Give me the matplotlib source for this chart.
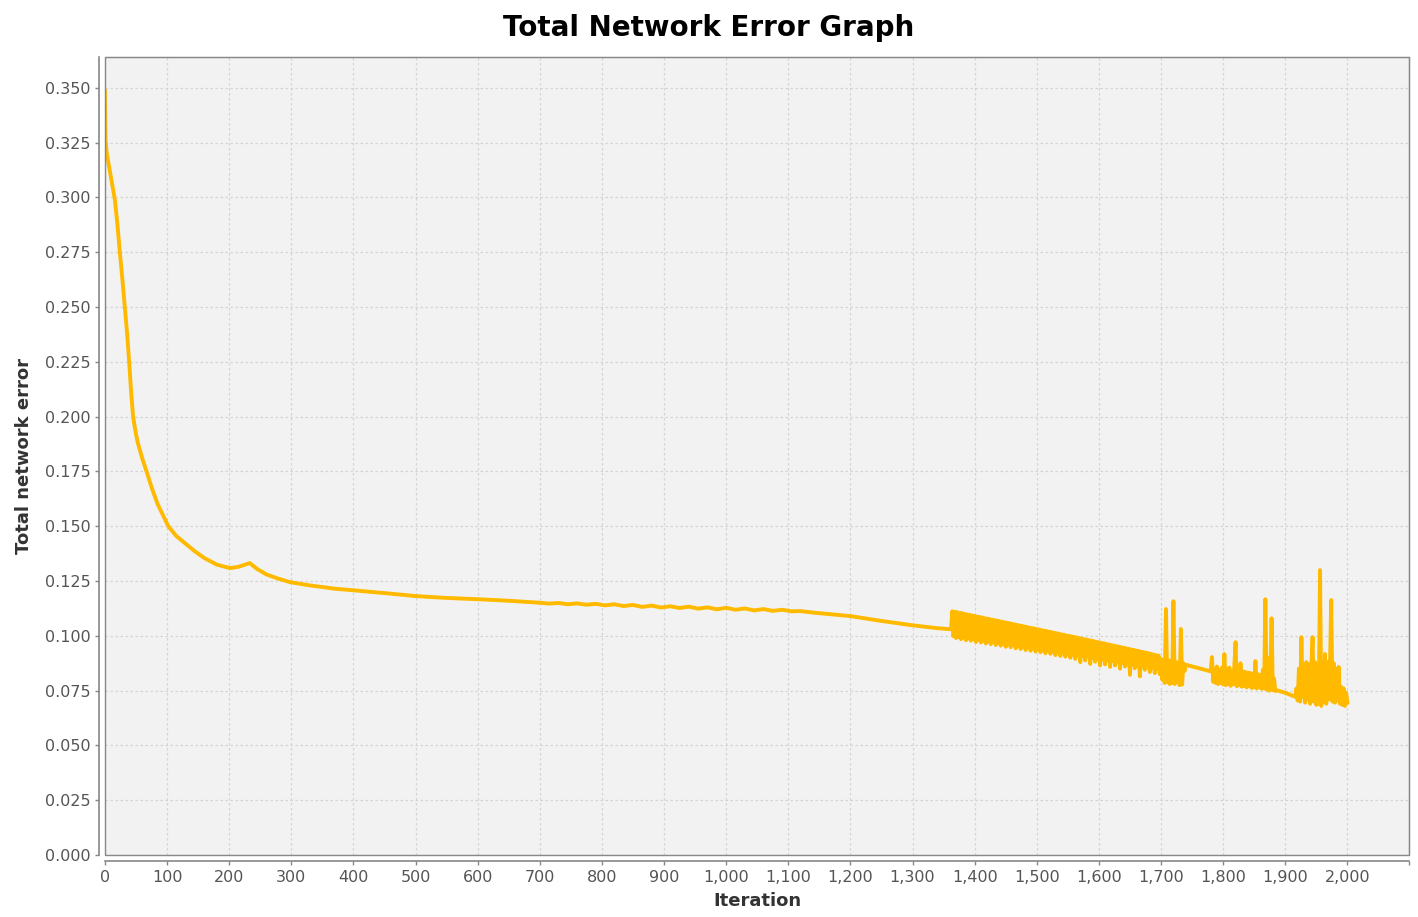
import numpy as np
import matplotlib.pyplot as plt
from matplotlib.ticker import FuncFormatter, MultipleLocator
from matplotlib.patches import Rectangle

# smooth start of training
it_start = [0, 1, 3, 8, 16, 20, 24, 28, 32, 36, 39, 42, 45, 47, 50, 53, 57, 60, 67, 76,
            85, 102, 115, 130, 145, 160, 180, 201, 215, 233, 245, 260, 280, 298, 330,
            370, 399, 450, 502, 550, 608, 650]
err_start = [0.3485, 0.326, 0.320, 0.312, 0.299, 0.288, 0.275, 0.263, 0.250, 0.237,
             0.225, 0.212, 0.201, 0.197, 0.192, 0.188, 0.184, 0.181, 0.175, 0.167,
             0.160, 0.150, 0.1455, 0.1420, 0.1385, 0.1355, 0.1325, 0.1309, 0.1315,
             0.1332, 0.1305, 0.1280, 0.1260, 0.1245, 0.1230, 0.1215, 0.1208, 0.1195,
             0.1181, 0.1173, 0.1166, 0.1160]

# slightly jittery plateau
it_mid = [700, 715, 730, 745, 760, 775, 790, 805, 820, 835, 850, 865, 880, 895, 910,
          925, 940, 955, 970, 985, 1000, 1015, 1030, 1045, 1060, 1075, 1090, 1105,
          1120, 1140, 1170, 1200, 1250, 1300, 1340, 1362]
err_mid = [0.1151, 0.1147, 0.1150, 0.1144, 0.1148, 0.1142, 0.1146, 0.1139, 0.1144,
           0.1136, 0.1141, 0.1132, 0.1138, 0.1129, 0.1135, 0.1127, 0.1133, 0.1124,
           0.1130, 0.1121, 0.1128, 0.1119, 0.1125, 0.1116, 0.1122, 0.1114, 0.1119,
           0.1112, 0.1113, 0.1106, 0.1098, 0.1090, 0.1068, 0.1048, 0.1035, 0.1030]

# dense oscillation band 1364..1698, every 2 iterations: peak, trough, peak, ...
band_hi = [0.1112, 0.1110, 0.1108, 0.1105, 0.1104, 0.1100, 0.1098, 0.1096, 0.1093, 0.1091,
           0.1088, 0.1086, 0.1084, 0.1081, 0.1079, 0.1077, 0.1074, 0.1072, 0.1070, 0.1067,
           0.1065, 0.1062, 0.1060, 0.1058, 0.1055, 0.1053, 0.1050, 0.1048, 0.1046, 0.1043,
           0.1041, 0.1038, 0.1036, 0.1034, 0.1031, 0.1029, 0.1026, 0.1024, 0.1022, 0.1019,
           0.1017, 0.1014, 0.1012, 0.1010, 0.1007, 0.1005, 0.1002, 0.1000, 0.0998, 0.0995,
           0.0993, 0.0990, 0.0988, 0.0985, 0.0983, 0.0981, 0.0978, 0.0976, 0.0973, 0.0971,
           0.0968, 0.0966, 0.0963, 0.0961, 0.0958, 0.0956, 0.0953, 0.0951, 0.0948, 0.0946,
           0.0943, 0.0941, 0.0938, 0.0936, 0.0933, 0.0931, 0.0928, 0.0926, 0.0923, 0.0921,
           0.0918, 0.0915, 0.0912, 0.0910]
band_lo = [0.0998, 0.0990, 0.0994, 0.0985, 0.0992, 0.0980, 0.0988, 0.0978, 0.0985, 0.0972,
           0.0982, 0.0970, 0.0978, 0.0965, 0.0975, 0.0962, 0.0972, 0.0958, 0.0968, 0.0955,
           0.0965, 0.0950, 0.0962, 0.0948, 0.0958, 0.0943, 0.0955, 0.0940, 0.0952, 0.0935,
           0.0948, 0.0932, 0.0945, 0.0928, 0.0942, 0.0925, 0.0938, 0.0920, 0.0935, 0.0918,
           0.0930, 0.0912, 0.0928, 0.0908, 0.0925, 0.0905, 0.0920, 0.0900, 0.0915, 0.0895,
           0.0912, 0.0880, 0.0908, 0.0888, 0.0905, 0.0872, 0.0900, 0.0882, 0.0895, 0.0865,
           0.0892, 0.0870, 0.0888, 0.0858, 0.0885, 0.0865, 0.0880, 0.0850, 0.0876, 0.0860,
           0.0872, 0.0822, 0.0868, 0.0852, 0.0865, 0.0815, 0.0860, 0.0845, 0.0856, 0.0835,
           0.0852, 0.0830, 0.0848, 0.0825]
it_band = list(range(1364, 1700, 2))
err_band = [v for par in zip(band_hi, band_lo) for v in par]

# spikes around 1700
it_a = list(range(1700, 1740, 2))
err_a = [0.0895, 0.0800, 0.0890, 0.0785, 0.1122, 0.0790, 0.0888, 0.0780, 0.0885, 0.0785,
         0.1158, 0.0780, 0.0880, 0.0790, 0.0878, 0.0775, 0.1031, 0.0778, 0.0875, 0.0840]

it_b = [1740, 1760, 1780]
err_b = [0.0868, 0.0853, 0.0838]

it_c = list(range(1782, 1887, 2))
err_c = [0.0903, 0.0790, 0.0850, 0.0785, 0.0860, 0.0780, 0.0845, 0.0785, 0.0855, 0.0778,
         0.0917, 0.0775, 0.0848, 0.0780, 0.0855, 0.0772, 0.0840, 0.0778, 0.0860, 0.0971,
         0.0770, 0.0842, 0.0775, 0.0875, 0.0768, 0.0838, 0.0772, 0.0835, 0.0765, 0.0832,
         0.0770, 0.0830, 0.0762, 0.0828, 0.0765, 0.0885, 0.0760, 0.0825, 0.0765, 0.0820,
         0.0758, 0.0845, 0.0760, 0.1167, 0.0755, 0.0900, 0.0750, 0.0815, 0.1080, 0.0752,
         0.0805, 0.0748, 0.0752]

it_d = [1900, 1916]
err_d = [0.0740, 0.0722]

it_e = list(range(1918, 2001, 2))
err_e = [0.0760, 0.0705, 0.0850, 0.0700, 0.0994, 0.0720, 0.0860, 0.0695, 0.0880, 0.0710,
         0.0870, 0.0690, 0.0860, 0.0994, 0.0700, 0.0880, 0.0685, 0.0865, 0.0690, 0.1300,
         0.0680, 0.0870, 0.0700, 0.0917, 0.0690, 0.0880, 0.0710, 0.0860, 0.1163, 0.0700,
         0.0875, 0.0695, 0.0850, 0.0705, 0.0858, 0.0690, 0.0767, 0.0685, 0.0760, 0.0680,
         0.0740, 0.0695]

iteracoes = it_start + it_mid + it_band + it_a + it_b + it_c + it_d + it_e
erro = err_start + err_mid + err_band + err_a + err_b + err_c + err_d + err_e

fig = plt.figure(figsize=(14.18, 9.17), dpi=100)
ax = fig.add_axes([0.074, 0.0676, 0.920, 0.870])
ax.set_facecolor('#f2f2f2')

ax.plot(iteracoes, erro, color='#ffba00', linewidth=2.8)

ax.set_xlim(0, 2100)
ax.set_ylim(0, 0.364)
ax.xaxis.set_major_locator(MultipleLocator(100))
ax.yaxis.set_major_locator(MultipleLocator(0.025))
ax.xaxis.set_major_formatter(FuncFormatter(lambda v, p: f'{int(v):,}' if v <= 2000 else ''))
ax.yaxis.set_major_formatter(FuncFormatter(lambda v, p: f'{v:.3f}'))

ax.grid(True, color='#d4d4d4', linestyle=(0, (2, 2)), linewidth=0.9)
ax.set_axisbelow(True)

for s in ['top', 'right']:
    ax.spines[s].set_color('#888888')
for s in ['left', 'bottom']:
    ax.spines[s].set_position(('outward', 4))
    ax.spines[s].set_color('#888888')
    ax.spines[s].set_linewidth(1.2)
ax.add_patch(Rectangle((0, 0), 1, 1, transform=ax.transAxes, fill=False,
                       edgecolor='#888888', linewidth=1.0, clip_on=False, zorder=5))

ax.tick_params(axis='both', colors='#888888', labelcolor='#555555', labelsize=11.5,
               length=3, width=1)

fig.suptitle('Total Network Error Graph', fontsize=20, fontweight='bold', x=0.5, y=0.985)
ax.set_xlabel('Iteration', fontsize=13, fontweight='bold', color='#333333', labelpad=5)
ax.set_ylabel('Total network error', fontsize=13, fontweight='bold', color='#333333', labelpad=8)

plt.savefig('out.png', dpi=100)
